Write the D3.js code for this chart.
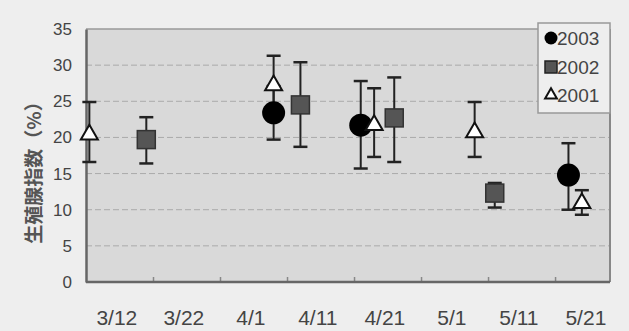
<!DOCTYPE html>
<html><head><meta charset="utf-8">
<script src="https://cdn.jsdelivr.net/npm/d3@7"></script>
<style>body{margin:0;background:#eeeeee;}svg{display:block;}</style>
</head><body>
<svg id="c" width="629" height="331"></svg>
<script>
// ---- data ----
const tickLabels = ["3/12","3/22","4/1","4/11","4/21","5/1","5/11","5/21"];
const tickDays = [0,10,20,30,40,50,60,70];        // days since 3/12
const yTicks = [0,5,10,15,20,25,30,35];
// series: day since 3/12, mean, lower, upper
const s2003_day = [28, 41, 72];
const s2003_val = [23.4, 21.7, 14.8];
const s2003_lo  = [19.7, 15.7, 10.0];
const s2003_hi  = [27.1, 27.8, 19.2];
const s2002_day = [9, 32, 46, 61];
const s2002_val = [19.7, 24.5, 22.7, 12.3];
const s2002_lo  = [16.4, 18.7, 16.6, 10.3];
const s2002_hi  = [22.8, 30.4, 28.3, 13.7];
const s2001_day = [0.5, 28, 43, 58, 74];
const s2001_val = [20.4, 27.2, 21.7, 20.7, 10.9];
const s2001_lo  = [16.6, 23.0, 17.3, 17.3, 9.3];
const s2001_hi  = [24.9, 31.3, 26.8, 24.9, 12.7];
const legendNames = ["2003","2002","2001"];

const svg = d3.select("#c");
const L = 86, R = 610, T = 29, B = 282;
const x = d3.scaleLinear().domain([0, 78.2]).range([L, R]);
const y = d3.scaleLinear().domain([0, 35]).range([B, T]);

// background
svg.append("rect").attr("width",629).attr("height",331).attr("fill","#eeeeee");
svg.append("rect").attr("x",L).attr("y",T).attr("width",R-L).attr("height",B-T).attr("fill","#d9d9d9");

// gridlines
svg.append("g").selectAll("line").data(yTicks.filter(d=>d>0 && d<35)).join("line")
  .attr("x1",L).attr("x2",R).attr("y1",d=>y(d)).attr("y2",d=>y(d))
  .attr("stroke","#aaaaaa").attr("stroke-width",1).attr("stroke-dasharray","6,3");

// plot frame
svg.append("line").attr("x1",L).attr("x2",R).attr("y1",T).attr("y2",T).attr("stroke","#999").attr("stroke-width",1.5);
svg.append("line").attr("x1",R).attr("x2",R).attr("y1",T).attr("y2",B).attr("stroke","#888").attr("stroke-width",2);

// y axis
const yAxis = d3.axisLeft(y).tickValues(yTicks).tickSize(0).tickPadding(14);
const gy = svg.append("g").attr("transform",`translate(${L},0)`).call(yAxis);
gy.select(".domain").attr("stroke","#666").attr("stroke-width",2.5);
gy.selectAll("text").attr("font-family","Liberation Sans, Arial, sans-serif").attr("font-size",17).attr("fill","#444");

// x axis
const xAxis = d3.axisBottom(x).tickValues(tickDays.slice(1)).tickSize(-5).tickFormat("");
const gx = svg.append("g").attr("transform",`translate(0,${B})`).call(xAxis);
gx.select(".domain").remove();
gx.selectAll(".tick line").attr("stroke","#888").attr("stroke-width",1.5);
svg.append("line").attr("x1",L).attr("x2",R).attr("y1",B).attr("y2",B).attr("stroke","#666").attr("stroke-width",2.5);
svg.append("g").selectAll("text").data(tickDays).join("text")
  .attr("x",(d)=>x(d+4.6)).attr("y",325).attr("text-anchor","middle")
  .attr("font-family","Liberation Sans, Arial, sans-serif").attr("font-size",21).attr("fill","#444")
  .text((d,i)=>tickLabels[i]);

// y title
svg.append("text").attr("transform","translate(41,168) rotate(-90)").attr("text-anchor","middle")
  .attr("font-family","Noto Sans CJK JP, sans-serif").attr("font-size",19).attr("font-weight","bold").attr("fill","#555")
  .text("生殖腺指数（%）");

function errorBars(days, lo, hi, dx){
  const g = svg.append("g");
  days.forEach((d,i)=>{
    const cx = x(d)+dx;
    g.append("line").attr("x1",cx).attr("x2",cx).attr("y1",y(lo[i])).attr("y2",y(hi[i])).attr("stroke","#222").attr("stroke-width",2);
    [lo[i],hi[i]].forEach(v=>g.append("line").attr("x1",cx-7).attr("x2",cx+7).attr("y1",y(v)).attr("y2",y(v)).attr("stroke","#222").attr("stroke-width",2.5));
  });
}
errorBars(s2002_day, s2002_lo, s2002_hi, 0);
errorBars(s2003_day, s2003_lo, s2003_hi, 0);
errorBars(s2001_day, s2001_lo, s2001_hi, 0);

const tri = d3.symbol().type(d3.symbolTriangle);
// 2002 squares
svg.append("g").selectAll("rect").data(s2002_day).join("rect")
  .attr("x",d=>x(d)-9).attr("y",(d,i)=>y(s2002_val[i])-9).attr("width",18).attr("height",18)
  .attr("fill","#555").attr("stroke","#333").attr("stroke-width",1.5);
// 2003 circles
svg.append("g").selectAll("circle").data(s2003_day).join("circle")
  .attr("cx",d=>x(d)).attr("cy",(d,i)=>y(s2003_val[i])).attr("r",11.5).attr("fill","#000");
// 2001 triangles
svg.append("g").selectAll("path").data(s2001_day).join("path")
  .attr("d",tri.size(125)).attr("transform",(d,i)=>`translate(${x(d)},${y(s2001_val[i])})`)
  .attr("fill","#fff").attr("stroke","#111").attr("stroke-width",2);

// legend
const lg = svg.append("g");
lg.append("rect").attr("x",538).attr("y",23).attr("width",72).attr("height",90).attr("fill","#eeeeee").attr("stroke","#999").attr("stroke-width",1.5);
const ly = [38,67,95];
lg.append("circle").attr("cx",551).attr("cy",ly[0]).attr("r",6.5).attr("fill","#000");
lg.append("rect").attr("x",545).attr("y",ly[1]-6).attr("width",12).attr("height",12).attr("fill","#555").attr("stroke","#222").attr("stroke-width",1.5);
lg.append("path").attr("d",tri.size(60)).attr("transform",`translate(551,${ly[2]})`).attr("fill","#fff").attr("stroke","#111").attr("stroke-width",2);
lg.selectAll("text").data(legendNames).join("text")
  .attr("x",557).attr("y",(d,i)=>ly[i]+7).attr("font-family","Liberation Sans, Arial, sans-serif").attr("font-size",19)
  .attr("fill","#444").text(d=>d);
</script>
</body></html>
